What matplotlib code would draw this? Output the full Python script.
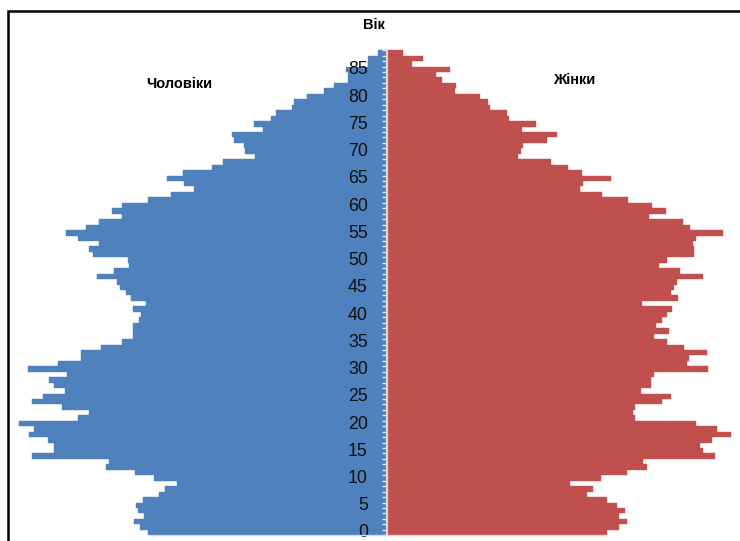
import numpy as np
import matplotlib.pyplot as plt
import matplotlib.transforms as mtransforms
from matplotlib.patches import Rectangle
from matplotlib.ticker import FixedLocator

plt.rcParams['font.family'] = ['Liberation Sans', 'DejaVu Sans']

# Вік, однорічні групи 0..88
ages = np.arange(0, 89)

# Чоловіки (0..88)
men = [239, 247, 253, 243, 249, 251, 244, 228, 222, 210,
       233, 252, 281, 278, 355, 333, 333, 339, 358, 353,
       368, 309, 298, 325, 355, 344, 322, 333, 338, 320,
       359, 329, 306, 306, 286, 265, 254, 254, 254, 248,
       246, 254, 241, 256, 261, 267, 270, 290, 273, 258,
       259, 294, 298, 288, 309, 321, 301, 288, 265, 275,
       265, 239, 216, 193, 203, 220, 204, 175, 164, 132,
       142, 143, 153, 155, 124, 133, 116, 111, 95, 93,
       80, 63, 53, 39, 39, 41, 19, 19, 9]

# Жінки (0..88)
women = [220, 232, 240, 232, 238, 230, 220, 200, 206, 183,
         214, 240, 260, 256, 328, 316, 313, 325, 344, 330,
         309, 248, 246, 248, 275, 284, 254, 264, 264, 267,
         321, 300, 302, 320, 297, 280, 267, 282, 269, 275,
         280, 285, 255, 291, 284, 287, 290, 316, 293, 272,
         280, 307, 307, 306, 309, 336, 303, 296, 262, 279,
         265, 241, 215, 193, 196, 224, 195, 181, 164, 131,
         134, 136, 160, 170, 135, 149, 122, 120, 103, 101,
         93, 68, 69, 55, 49, 63, 25, 36, 16]

age_ticks = list(range(0, 90, 5))

fig = plt.figure(figsize=(7.4, 5.41), dpi=100)
ax = fig.add_axes([0, 0, 1, 1])
ax.set_facecolor('none')

ax.barh(ages, [-m for m in men], height=1, color='#4F81BD',
        edgecolor='#4F81BD', linewidth=0.3)
ax.barh(ages, women, height=1, color='#C0504D',
        edgecolor='#C0504D', linewidth=0.3)

ax.set_xlim(-386.5, 353.5)
ax.set_ylim(-1.56, 97.72)

# вертикальна вісь по центру
for s in ['top', 'right', 'bottom']:
    ax.spines[s].set_visible(False)
ax.spines['left'].set_position(('data', 0))
ax.spines['left'].set_bounds(-0.5, 88.5)
ax.spines['left'].set_color('#D9D9D9')
ax.spines['left'].set_linewidth(1.6)
ax.set_xticks([])

ax.set_yticks(age_ticks)
ax.set_yticklabels([str(a) for a in age_ticks])
ax.yaxis.set_minor_locator(FixedLocator(np.arange(-0.5, 89, 1)))
ax.tick_params(axis='y', which='major', length=0, pad=13.5, labelsize=12.8,
               labelcolor='#111111')
ax.tick_params(axis='y', which='minor', length=3.6, width=1.0,
               color='#E8E8E8', direction='out')
shift = mtransforms.ScaledTranslation(0, 1.5 / 100, fig.dpi_scale_trans)
for lbl in ax.get_yticklabels():
    lbl.set_transform(lbl.get_transform() + shift)

# нижня лінія під наймолодшою групою
ax.hlines(-0.5, -men[0], women[0], color='#D9D9D9', lw=1)

fig.text(374 / 740, 1 - 25 / 541, 'Вік', ha='center', va='center',
         fontsize=10.5, fontweight='bold')
fig.text(179.5 / 740, 1 - 84.5 / 541, 'Чоловіки', ha='center', va='center',
         fontsize=10.5, fontweight='bold')
fig.text(574 / 740, 1 - 80 / 541, 'Жінки', ha='center', va='center',
         fontsize=10.5, fontweight='bold')

# рамка діаграми
fig.patches.append(Rectangle((7.5 / 740, -0.1), 1.2, 1.1 - 11.5 / 541,
                             transform=fig.transFigure, fill=False,
                             edgecolor='black', linewidth=1.8))

fig.savefig('out.png', dpi=100)
